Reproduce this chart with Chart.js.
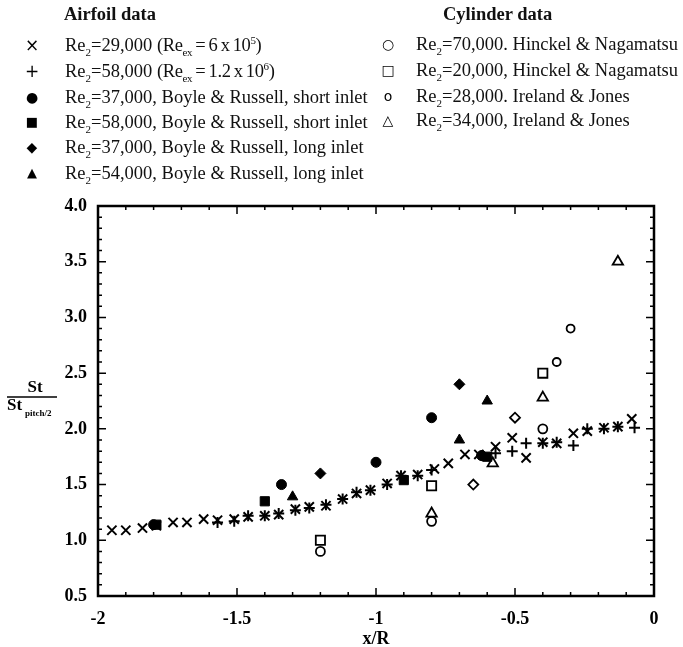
<!DOCTYPE html>
<html>
<head>
<meta charset="utf-8">
<script src="https://cdn.jsdelivr.net/npm/chart.js@4.4.0/dist/chart.umd.min.js"></script>
<style>
    html, body { margin: 0; padding: 0; background: #fff; }
    #wrap { position: relative; width: 683px; height: 647px; overflow: hidden; }
    #chart { position: absolute; left: 0; top: 0; }
    .hd { position: absolute; font: bold 18.5px "Liberation Serif"; color: #111; white-space: nowrap; }
    .row { position: absolute; font: 18.5px "Liberation Serif"; color: #111; white-space: nowrap; line-height: 20px; }
    .tight { word-spacing: -1px; letter-spacing: -0.4px; }
    .sym { position: absolute; width: 20px; text-align: center; font-family: "DejaVu Sans"; color: #000; line-height: 20px; }
    sub, sup { font-size: 11px; line-height: 0; }
</style>
</head>
<body>
<div id="wrap">
    <canvas id="chart" width="683" height="647"></canvas>

    <div class="hd" style="left:64px; top:4px;">Airfoil data</div>
    <div class="sym" style="left:22px; top:35px; font-size:17px;">×</div>
    <div class="row" style="left:65px; top:35px;">Re<sub>2</sub>=29,000 <span class="tight">(Re<sub>ex</sub> = 6 x 10<sup>5</sup>)</span></div>
    <div class="sym" style="left:22px; top:61px; font-size:17px;">+</div>
    <div class="row" style="left:65px; top:61px;">Re<sub>2</sub>=58,000 <span class="tight">(Re<sub>ex</sub> = 1.2 x 10<sup>6</sup>)</span></div>
    <div class="sym" style="left:22px; top:87px; font-size:14px;">●</div>
    <div class="row" style="left:65px; top:87px;">Re<sub>2</sub>=37,000, Boyle &amp; Russell, short inlet</div>
    <div class="sym" style="left:22px; top:112px; font-size:13px;">■</div>
    <div class="row" style="left:65px; top:112px;">Re<sub>2</sub>=58,000, Boyle &amp; Russell, short inlet</div>
    <div class="sym" style="left:22px; top:137px; font-size:14px;">◆</div>
    <div class="row" style="left:65px; top:137px;">Re<sub>2</sub>=37,000, Boyle &amp; Russell, long inlet</div>
    <div class="sym" style="left:22px; top:163px; font-size:13px;">▲</div>
    <div class="row" style="left:65px; top:163px;">Re<sub>2</sub>=54,000, Boyle &amp; Russell, long inlet</div>

    <div class="hd" style="left:443px; top:4px;">Cylinder data</div>
    <div class="sym" style="left:378px; top:34px; font-size:14px;">○</div>
    <div class="row" style="left:416px; top:34px;">Re<sub>2</sub>=70,000. Hinckel &amp; Nagamatsu</div>
    <div class="sym" style="left:378px; top:60px; font-size:14px;">□</div>
    <div class="row" style="left:416px; top:60px;">Re<sub>2</sub>=20,000, Hinckel &amp; Nagamatsu</div>
    <div class="sym" style="left:378px; top:86px; font-size:14px;">o</div>
    <div class="row" style="left:416px; top:86px;">Re<sub>2</sub>=28,000. Ireland &amp; Jones</div>
    <div class="sym" style="left:378px; top:110px; font-size:14px;">△</div>
    <div class="row" style="left:416px; top:110px;">Re<sub>2</sub>=34,000, Ireland &amp; Jones</div>
</div>

<script>
// tick values and labels
const xTicks = [-2, -1.5, -1, -0.5, 0];
const xTickLabels = ['-2', '-1.5', '-1', '-0.5', '0'];
const yTicks = [0.5, 1.0, 1.5, 2.0, 2.5, 3.0, 3.5, 4.0];
const yTickLabels = ['0.5', '1.0', '1.5', '2.0', '2.5', '3.0', '3.5', '4.0'];

// airfoil, Re2=29,000 (x)
const re29X = [-1.95, -1.90, -1.84, -1.79, -1.73, -1.68, -1.62, -1.57, -1.51, -1.46, -1.40, -1.35, -1.29, -1.24, -1.18, -1.12, -1.07, -1.02, -0.96, -0.91, -0.85, -0.79, -0.74, -0.68, -0.63, -0.57, -0.51, -0.46, -0.40, -0.35, -0.29, -0.24, -0.18, -0.13, -0.08];
const re29Y = [1.09, 1.09, 1.11, 1.13, 1.16, 1.16, 1.19, 1.18, 1.19, 1.21, 1.22, 1.23, 1.28, 1.30, 1.31, 1.37, 1.42, 1.45, 1.51, 1.58, 1.59, 1.64, 1.69, 1.77, 1.77, 1.84, 1.92, 1.74, 1.88, 1.87, 1.96, 1.98, 2.01, 2.02, 2.09];

// airfoil, Re2=58,000 (+)
const re58X = [-1.57, -1.51, -1.46, -1.40, -1.35, -1.29, -1.24, -1.18, -1.12, -1.07, -1.02, -0.96, -0.91, -0.85, -0.80, -0.62, -0.57, -0.51, -0.46, -0.40, -0.35, -0.29, -0.24, -0.18, -0.13, -0.07];
const re58Y = [1.16, 1.17, 1.22, 1.22, 1.24, 1.27, 1.29, 1.32, 1.37, 1.43, 1.45, 1.50, 1.58, 1.58, 1.63, 1.76, 1.78, 1.80, 1.87, 1.87, 1.88, 1.85, 2.00, 2.00, 2.02, 2.01];

// Boyle & Russell
const br37ShortX = [-1.80, -1.34, -1.00, -0.80, -0.62];
const br37ShortY = [1.14, 1.50, 1.70, 2.10, 1.76];
const br58ShortX = [-1.79, -1.40, -0.90, -0.60];
const br58ShortY = [1.14, 1.35, 1.54, 1.75];
const br37LongX = [-1.20, -0.70];
const br37LongY = [1.60, 2.40];
const br54LongX = [-1.30, -0.70, -0.60];
const br54LongY = [1.39, 1.90, 2.25];

// cylinder data
const hn70X = [-1.20, -0.80, -0.40];
const hn70Y = [0.90, 1.17, 2.00];
const hn20X = [-1.20, -0.80, -0.40];
const hn20Y = [1.00, 1.49, 2.50];
const ij28X = [-0.65, -0.50, -0.35, -0.30];
const ij28Y = [1.50, 2.10, 2.60, 2.90];
const ij34X = [-0.80, -0.58, -0.40, -0.13];
const ij34Y = [1.24, 1.69, 2.28, 3.50];

const pts = (xs, ys) => xs.map((x, i) => ({ x: x, y: ys[i] }));

const tickFont = { family: 'Liberation Serif', size: 18, weight: 'bold' };

// inward ticks on all four sides, frame and the fraction label on the y axis
const frameTicks = {
    id: 'frameTicks',
    afterDatasetsDraw(chart) {
        const { ctx, chartArea: a, scales } = chart;
        const xs = scales.x;
        const ys = scales.y;
        ctx.save();
        ctx.strokeStyle = '#000';
        ctx.lineWidth = 1.5;
        ctx.beginPath();
        for (let i = 0; i <= 20; i++) {
            const px = xs.getPixelForValue(-2 + i * 0.1);
            const len = i % 5 === 0 ? 8 : 4;
            ctx.moveTo(px, a.bottom);
            ctx.lineTo(px, a.bottom - len);
            ctx.moveTo(px, a.top);
            ctx.lineTo(px, a.top + len);
        }
        for (let i = 0; i <= 35; i++) {
            const py = ys.getPixelForValue(0.5 + i * 0.1);
            const len = i % 5 === 0 ? 8 : 4;
            ctx.moveTo(a.left, py);
            ctx.lineTo(a.left + len, py);
            ctx.moveTo(a.right, py);
            ctx.lineTo(a.right - len, py);
        }
        ctx.stroke();
        ctx.lineWidth = 2.5;
        ctx.strokeRect(a.left, a.top, a.right - a.left, a.bottom - a.top);

        // y title as a fraction
        ctx.fillStyle = '#000';
        ctx.textBaseline = 'middle';
        ctx.font = 'bold 17px "Liberation Serif"';
        ctx.textAlign = 'center';
        ctx.fillText('St', 35, 388);
        ctx.lineWidth = 1.5;
        ctx.beginPath();
        ctx.moveTo(7, 397);
        ctx.lineTo(57, 397);
        ctx.stroke();
        ctx.textAlign = 'left';
        ctx.fillText('St', 7, 406);
        ctx.font = 'bold 9px "Liberation Serif"';
        ctx.fillText('pitch/2', 25, 414);
        ctx.restore();
    },
};

const chart = new Chart(document.getElementById('chart').getContext('2d'), {
    type: 'scatter',
    data: {
        datasets: [
            {
                label: 'Re2=29,000 (Rex = 6 x 10^5)',
                data: pts(re29X, re29Y),
                pointStyle: 'crossRot',
                pointRadius: 6.5,
                borderColor: '#000',
                pointBorderWidth: 2,
            },
            {
                label: 'Re2=58,000 (Rex = 1.2 x 10^6)',
                data: pts(re58X, re58Y),
                pointStyle: 'cross',
                pointRadius: 5.5,
                borderColor: '#000',
                pointBorderWidth: 2,
            },
            {
                label: 'Re2=37,000, Boyle & Russell, short inlet',
                data: pts(br37ShortX, br37ShortY),
                pointStyle: 'circle',
                pointRadius: 5,
                backgroundColor: '#000',
                borderColor: '#000',
            },
            {
                label: 'Re2=58,000, Boyle & Russell, short inlet',
                data: pts(br58ShortX, br58ShortY),
                pointStyle: 'rect',
                pointRadius: 6.5,
                backgroundColor: '#000',
                borderColor: '#000',
            },
            {
                label: 'Re2=37,000, Boyle & Russell, long inlet',
                data: pts(br37LongX, br37LongY),
                pointStyle: 'rectRot',
                pointRadius: 5.5,
                backgroundColor: '#000',
                borderColor: '#000',
            },
            {
                label: 'Re2=54,000, Boyle & Russell, long inlet',
                data: pts(br54LongX, br54LongY),
                pointStyle: 'triangle',
                pointRadius: 6,
                backgroundColor: '#000',
                borderColor: '#000',
            },
            {
                label: 'Re2=70,000. Hinckel & Nagamatsu',
                data: pts(hn70X, hn70Y),
                pointStyle: 'circle',
                pointRadius: 4.5,
                backgroundColor: 'rgba(0,0,0,0)',
                borderColor: '#000',
                pointBorderWidth: 1.8,
            },
            {
                label: 'Re2=20,000, Hinckel & Nagamatsu',
                data: pts(hn20X, hn20Y),
                pointStyle: 'rect',
                pointRadius: 6.5,
                backgroundColor: 'rgba(0,0,0,0)',
                borderColor: '#000',
                pointBorderWidth: 1.8,
            },
            {
                label: 'Re2=28,000. Ireland & Jones',
                data: pts(ij28X, ij28Y),
                pointStyle: ['rectRot', 'rectRot', 'circle', 'circle'],
                pointRadius: [5, 5, 4, 4],
                backgroundColor: 'rgba(0,0,0,0)',
                borderColor: '#000',
                pointBorderWidth: 1.8,
            },
            {
                label: 'Re2=34,000, Ireland & Jones',
                data: pts(ij34X, ij34Y),
                pointStyle: 'triangle',
                pointRadius: 6,
                backgroundColor: 'rgba(0,0,0,0)',
                borderColor: '#000',
                pointBorderWidth: 1.8,
            },
        ],
    },
    options: {
        responsive: false,
        animation: false,
        layout: {
            padding: { left: 0, right: 29, top: 206, bottom: 0 },
        },
        scales: {
            x: {
                type: 'linear',
                min: -2,
                max: 0,
                afterBuildTicks: (scale) => {
                    scale.ticks = xTicks.map((v) => ({ value: v }));
                },
                afterFit: (scale) => {
                    scale.height = 51;
                },
                ticks: {
                    color: '#000',
                    font: tickFont,
                    padding: 13,
                    callback: (v) => xTickLabels[xTicks.indexOf(v)],
                },
                grid: { display: false, drawTicks: false },
                border: { display: false },
                title: {
                    display: true,
                    text: 'x/R',
                    color: '#000',
                    font: { family: 'Liberation Serif', size: 18, weight: 'bold', lineHeight: 0.9 },
                    padding: 0,
                },
            },
            y: {
                type: 'linear',
                min: 0.5,
                max: 4,
                afterBuildTicks: (scale) => {
                    scale.ticks = yTicks.map((v) => ({ value: v }));
                },
                afterFit: (scale) => {
                    scale.width = 98;
                },
                ticks: {
                    color: '#000',
                    font: tickFont,
                    padding: 11,
                    callback: (v) => yTickLabels[yTicks.indexOf(v)],
                },
                grid: { display: false, drawTicks: false },
                border: { display: false },
            },
        },
        plugins: {
            legend: { display: false },
            tooltip: { enabled: false },
        },
    },
    plugins: [frameTicks],
});
</script>
</body>
</html>
